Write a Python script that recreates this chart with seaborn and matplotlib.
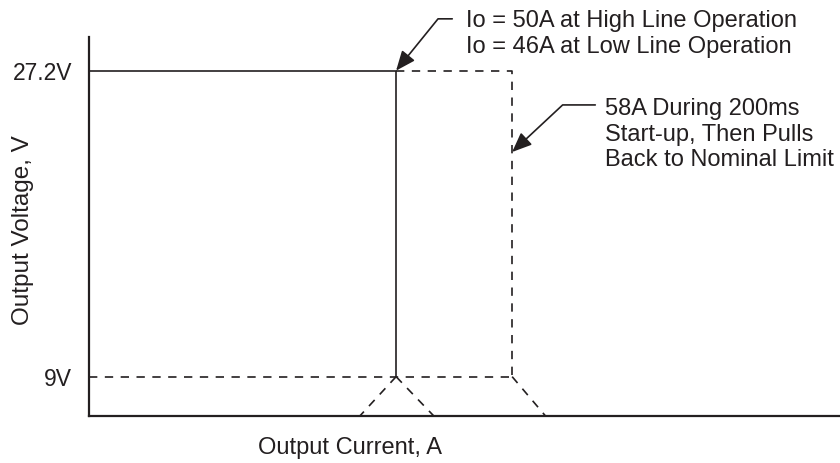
import numpy as np
import seaborn as sns
import matplotlib
matplotlib.use('Agg')
import matplotlib.pyplot as plt

# chart values (current in A, voltage in V)
i_limit = 50.0        # nominal current limit
i_start = 58.0        # start-up current limit
v_nominal = 27.2
v_fold = 9.0
x_range = [28.83, 80.6]
y_range = [6.66, 29.2]

# foldback tails run from the 9V knee down to the axis
fold_left_end = 47.5
fold_mid_end = 52.6
fold_right_end = 60.3

ytick_values = [v_fold, v_nominal]
ytick_labels = ['9V', '27.2V']

note_high_low = 'Io = 50A at High Line Operation\nIo = 46A at Low Line Operation'
note_startup = '58A During 200ms\nStart-up, Then Pulls\nBack to Nominal Limit'

ink = '#231f20'


def main():
  sns.set_style('white')
  plt.rcParams['font.family'] = ['Liberation Sans', 'DejaVu Sans']

  fig = plt.figure(figsize=(8.4, 4.63), dpi=100)
  ax = fig.add_axes([89 / 840, 47 / 463, 751 / 840, 379 / 463])

  lw = 1.2
  dash = (0, (5, 4.5))
  fs = 17

  # solid operating curve
  sns.lineplot(x=[x_range[0], i_limit, i_limit], y=[v_nominal, v_nominal, v_fold],
               sort=False, estimator=None, color=ink, lw=lw, ax=ax)
  # start-up limit (dashed)
  sns.lineplot(x=[i_limit, i_start, i_start], y=[v_nominal, v_nominal, v_fold],
               sort=False, estimator=None, color=ink, lw=lw, ls=dash, ax=ax)
  # 9V line
  sns.lineplot(x=[x_range[0], i_start], y=[v_fold, v_fold],
               sort=False, estimator=None, color=ink, lw=lw, ls=dash, ax=ax)
  # foldback tails
  for x0, x1 in [(i_limit, fold_left_end), (i_limit, fold_mid_end), (i_start, fold_right_end)]:
    sns.lineplot(x=[x0, x1], y=[v_fold, y_range[0]], sort=False, estimator=None,
                 color=ink, lw=lw, ls=dash, ax=ax)

  ax.set_xlim(x_range)
  ax.set_ylim(y_range)
  ax.set_xticks([])
  ax.set_yticks(ytick_values)
  ax.set_yticklabels(ytick_labels)
  ax.tick_params(axis='y', length=0, pad=12, labelsize=16.5, labelcolor=ink)

  for side in ['top', 'right']:
    ax.spines[side].set_visible(False)
  for side in ['left', 'bottom']:
    ax.spines[side].set_linewidth(1.6)
    ax.spines[side].set_color(ink)

  ax.set_xlabel('Output Current, A', fontsize=fs, color=ink)
  ax.set_ylabel('Output Voltage, V', fontsize=fs + 0.5, color=ink)
  ax.xaxis.set_label_coords(0.3475, -0.055)
  ax.yaxis.set_label_coords(-0.073, 0.49)

  arrow = dict(arrowstyle='-|>,head_length=0.6,head_width=0.25', color=ink, lw=1.2,
               shrinkA=0, shrinkB=0, mutation_scale=20)

  # note 1: current limit
  ax.annotate('', xy=(i_limit, v_nominal), xytext=(53.87, 30.28),
              arrowprops=dict(arrow, connectionstyle='angle,angleA=0,angleB=51,rad=0'),
              annotation_clip=False)
  ax.text(54.83, 29.38, note_high_low, ha='left', va='center', fontsize=fs,
          color=ink, linespacing=1.22, clip_on=False)

  # note 2: start-up current
  ax.annotate('', xy=(i_start, 22.36), xytext=(63.73, 25.16),
              arrowprops=dict(arrow, connectionstyle='angle,angleA=0,angleB=43,rad=0'),
              annotation_clip=False)
  ax.text(64.42, 23.4, note_startup, ha='left', va='center', fontsize=fs,
          color=ink, linespacing=1.22, clip_on=False)

  plt.savefig('out.png', dpi=100)


if __name__ == '__main__':
  main()
